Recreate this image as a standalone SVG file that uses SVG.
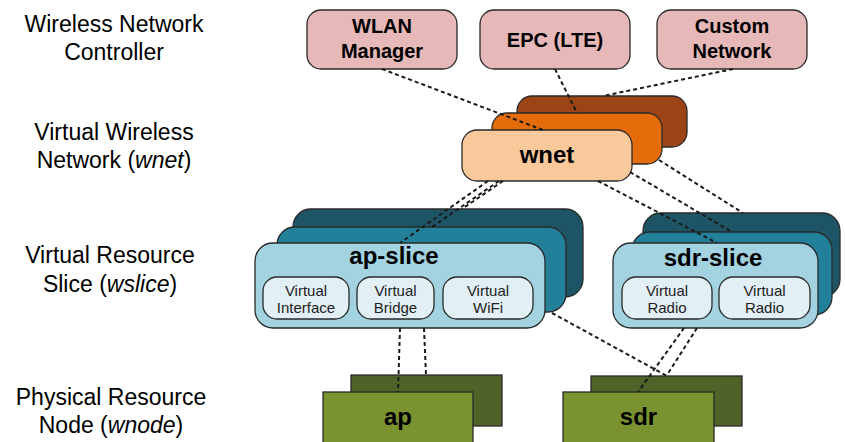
<svg xmlns="http://www.w3.org/2000/svg" width="845" height="442" viewBox="0 0 845 442">
<style>
  text { font-family: "Liberation Sans", Arial, sans-serif; fill: #000; }
  .lbl { font-size: 23px; text-anchor: middle; }
  .b { font-weight: bold; text-anchor: middle; }
  .t { font-size: 20px; }
  .big { font-size: 24px; }
  .small { font-size: 15px; text-anchor: middle; fill: #222; }
  .box { stroke: #2a2a2a; stroke-width: 1.3; }
  .ctl { fill: #e6b9b8; }
  .wn1 { fill: #9c4415; }
  .wn2 { fill: #e46c0a; }
  .wn3 { fill: #f9c99c; }
  .sl1 { fill: #1e5566; }
  .sl2 { fill: #22809b; }
  .sl3 { fill: #a3d2e1; }
  .inner { fill: #e2eff5; }
  .ph1 { fill: #4f6228; }
  .ph2 { fill: #7a9330; }
  .conn { stroke: #1a1a1a; stroke-width: 2; stroke-dasharray: 4 3; fill: none; }
</style>

<g id="labels">
  <text class="lbl" x="114" y="32">Wireless Network</text>
  <text class="lbl" x="114" y="60">Controller</text>
  <text class="lbl" x="114" y="140">Virtual Wireless</text>
  <text class="lbl" x="114" y="168">Network (<tspan font-style="italic">wnet</tspan>)</text>
  <text class="lbl" x="110" y="263">Virtual Resource</text>
  <text class="lbl" x="110" y="292">Slice (<tspan font-style="italic">wslice</tspan>)</text>
  <text class="lbl" x="111" y="405">Physical Resource</text>
  <text class="lbl" x="111" y="433">Node (<tspan font-style="italic">wnode</tspan>)</text>
</g>

<g id="wlan-manager">
  <rect class="box ctl" x="307" y="10" width="150" height="59" rx="14"/>
  <text class="b t" x="382" y="33">WLAN</text>
  <text class="b t" x="382" y="58">Manager</text>
</g>
<g id="epc-lte">
  <rect class="box ctl" x="480" y="10" width="150" height="59" rx="14"/>
  <text class="b t" x="555" y="47">EPC (LTE)</text>
</g>
<g id="custom-network">
  <rect class="box ctl" x="657" y="10" width="150" height="59" rx="14"/>
  <text class="b t" x="732" y="33">Custom</text>
  <text class="b t" x="732" y="58">Network</text>
</g>

<g id="wnet">
  <rect class="box wn1" x="517" y="96" width="170" height="51" rx="15"/>
  <rect class="box wn2" x="492" y="113" width="170" height="51" rx="15"/>
  <rect class="box wn3" x="462" y="130" width="170" height="51" rx="15"/>
  <text class="b big" x="547" y="163">wnet</text>
</g>

<g id="ap-slice">
  <rect class="box sl1" x="293" y="209" width="290" height="88" rx="18"/>
  <rect class="box sl2" x="277" y="227" width="289" height="85" rx="18"/>
  <rect class="box sl3" x="255" y="243" width="290" height="85" rx="18"/>
  <text class="b big" x="394" y="264">ap-slice</text>
  <rect class="box inner" x="263" y="277" width="86" height="42" rx="14"/>
  <text class="small" x="306" y="296">Virtual</text>
  <text class="small" x="306" y="313">Interface</text>
  <rect class="box inner" x="357" y="277" width="77" height="42" rx="14"/>
  <text class="small" x="395.5" y="296">Virtual</text>
  <text class="small" x="395.5" y="313">Bridge</text>
  <rect class="box inner" x="443" y="277" width="90" height="42" rx="14"/>
  <text class="small" x="488" y="296">Virtual</text>
  <text class="small" x="488" y="313">WiFi</text>
</g>

<g id="sdr-slice">
  <rect class="box sl1" x="643" y="213" width="197" height="84" rx="18"/>
  <rect class="box sl2" x="632" y="232" width="200" height="83" rx="18"/>
  <rect class="box sl3" x="613" y="243" width="205" height="85" rx="18"/>
  <text class="b big" x="713" y="266">sdr-slice</text>
  <rect class="box inner" x="622" y="277" width="90" height="42" rx="14"/>
  <text class="small" x="667" y="296">Virtual</text>
  <text class="small" x="667" y="313">Radio</text>
  <rect class="box inner" x="719" y="277" width="91" height="42" rx="14"/>
  <text class="small" x="764.5" y="296">Virtual</text>
  <text class="small" x="764.5" y="313">Radio</text>
</g>

<g id="ap">
  <rect class="box ph1" x="351" y="375" width="151" height="51"/>
  <rect class="box ph2" x="323" y="392" width="150" height="60"/>
  <text class="b big" x="398" y="425">ap</text>
</g>

<g id="sdr">
  <rect class="box ph1" x="591" y="376" width="151" height="50"/>
  <rect class="box ph2" x="563" y="392" width="151" height="60"/>
  <text class="b big" x="638.5" y="425">sdr</text>
</g>

<g id="connectors">
  <line class="conn" x1="382" y1="69" x2="543" y2="130"/>
  <line class="conn" x1="555" y1="69" x2="577" y2="113"/>
  <line class="conn" x1="733" y1="69" x2="603" y2="96"/>
  <line class="conn" x1="488" y1="181" x2="400" y2="243"/>
  <line class="conn" x1="499" y1="181" x2="432" y2="227"/>
  <line class="conn" x1="503" y1="181" x2="462" y2="209"/>
  <line class="conn" x1="598" y1="181" x2="717" y2="243"/>
  <line class="conn" x1="630" y1="172" x2="732" y2="232"/>
  <line class="conn" x1="659" y1="160" x2="743" y2="213"/>
  <line class="conn" x1="400" y1="328" x2="398" y2="392"/>
  <line class="conn" x1="424" y1="328" x2="426" y2="375"/>
  <line class="conn" x1="552" y1="313" x2="667" y2="376"/>
  <line class="conn" x1="684" y1="328" x2="638" y2="392"/>
  <line class="conn" x1="697" y1="328" x2="667" y2="375"/>
</g>
</svg>
